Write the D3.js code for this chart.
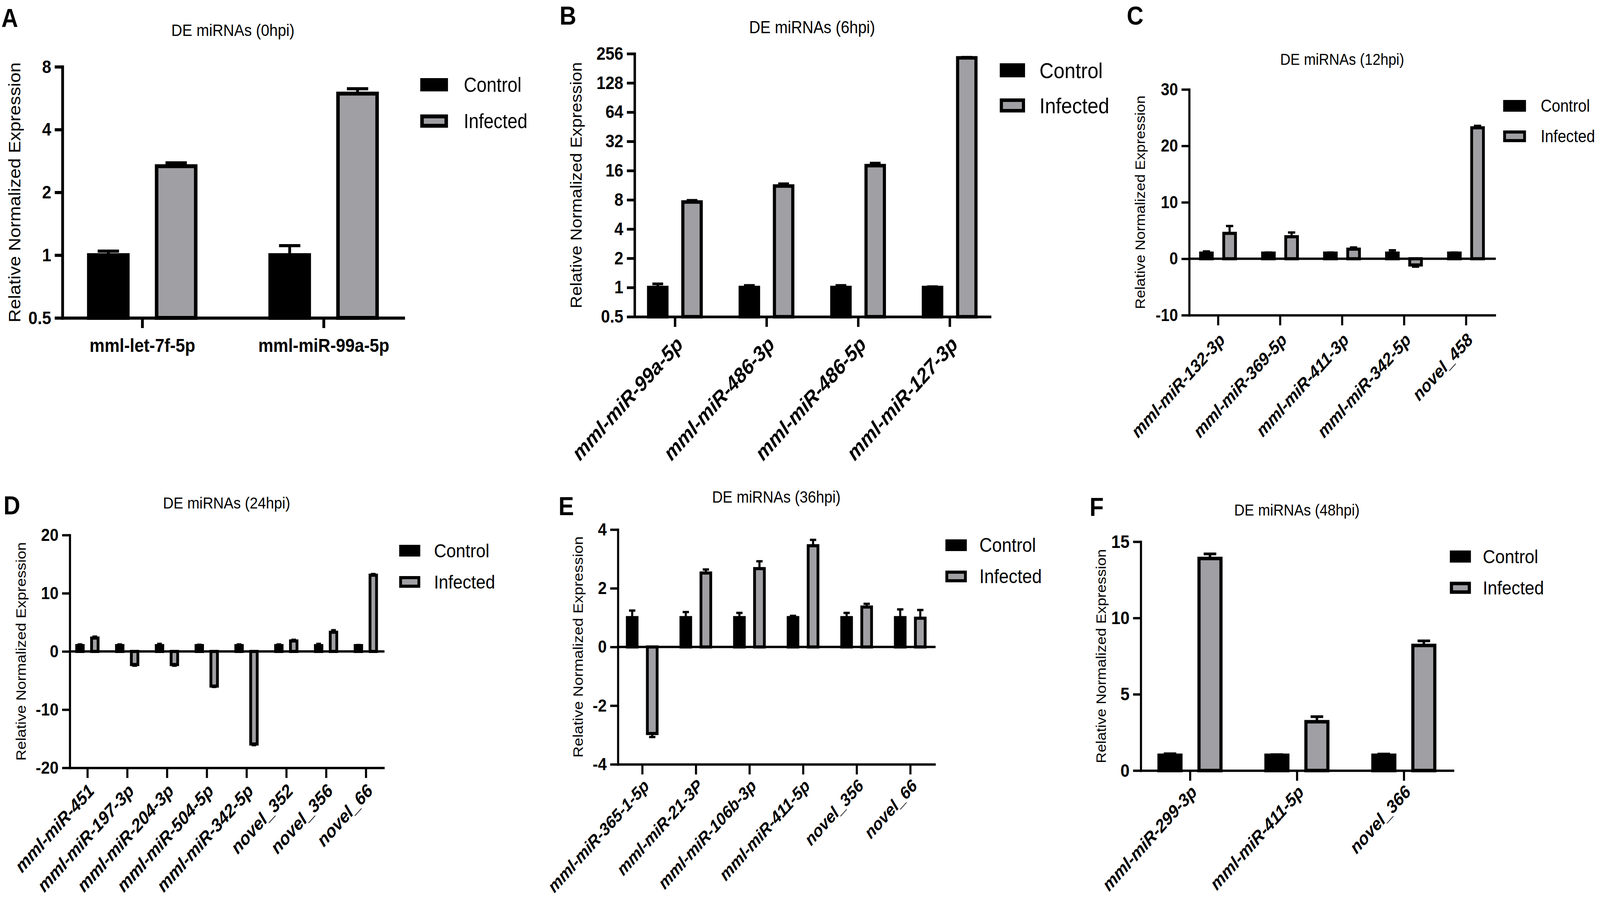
<!DOCTYPE html>
<html>
<head>
<meta charset="utf-8">
<script src="https://cdn.jsdelivr.net/npm/d3@7"></script>
<style>
  html, body { margin: 0; padding: 0; background: #fff; overflow: hidden; width: 100%; height: 100%; }
  svg { display: block; width: 100vw; height: 100vh; }
</style>
</head>
<body>
<svg id="fig" viewBox="0 0 4561 2307" preserveAspectRatio="none"></svg>
<script>
// ---- data ----
var seriesNames = ["Control", "Infected"];

// A: 0hpi (log2 axis)
var catsA = ["mml-let-7f-5p", "mml-miR-99a-5p"];
var controlA = [1.0, 1.0];
var controlErrA = [0.045, 0.11];
var infectedA = [2.67, 5.95];
var infectedErrA = [0.10, 0.33];
var ticksA = [0.5, 1, 2, 4, 8];
var tickLabelsA = ["0.5", "1", "2", "4", "8"];

// B: 6hpi (log2 axis)
var catsB = ["mml-miR-99a-5p", "mml-miR-486-3p", "mml-miR-486-5p", "mml-miR-127-3p"];
var controlB = [1.0, 1.0, 1.0, 1.0];
var controlErrB = [0.09, 0.05, 0.05, 0.02];
var infectedB = [7.6, 11.1, 18.0, 232];
var infectedErrB = [0.3, 0.6, 1.1, 3];
var ticksB = [0.5, 1, 2, 4, 8, 16, 32, 64, 128, 256];
var tickLabelsB = ["0.5", "1", "2", "4", "8", "16", "32", "64", "128", "256"];

// C: 12hpi
var catsC = ["mml-miR-132-3p", "mml-miR-369-5p", "mml-miR-411-3p", "mml-miR-342-5p", "novel_458"];
var controlC = [1.0, 1.0, 1.0, 1.0, 1.0];
var controlErrC = [0.3, 0.1, 0.1, 0.5, 0.1];
var infectedC = [4.5, 3.9, 1.7, -1.1, 23.2];
var infectedErrC = [1.3, 0.75, 0.3, 0.3, 0.35];
var ticksC = [-10, 0, 10, 20, 30];
var tickLabelsC = ["-10", "0", "10", "20", "30"];

// D: 24hpi
var catsD = ["mml-miR-451", "mml-miR-197-3p", "mml-miR-204-3p", "mml-miR-504-5p",
             "mml-miR-342-5p", "novel_352", "novel_356", "novel_66"];
var controlD = [1.0, 1.0, 1.0, 1.0, 1.0, 1.0, 1.0, 1.0];
var controlErrD = [0.2, 0.2, 0.3, 0.15, 0.2, 0.2, 0.3, 0.1];
var infectedD = [2.3, -2.25, -2.25, -5.95, -15.9, 1.8, 3.3, 13.1];
var infectedErrD = [0.25, 0.2, 0.2, 0.15, 0.2, 0.2, 0.35, 0.2];
var ticksD = [-20, -10, 0, 10, 20];
var tickLabelsD = ["-20", "-10", "0", "10", "20"];

// E: 36hpi
var catsE = ["mml-miR-365-1-5p", "mml-miR-21-3P", "mml-miR-106b-3p", "mml-miR-411-5p", "novel_356", "novel_66"];
var controlE = [1.0, 1.0, 1.0, 1.0, 1.0, 1.0];
var controlErrE = [0.24, 0.19, 0.16, 0.06, 0.16, 0.28];
var infectedE = [-2.95, 2.52, 2.67, 3.45, 1.36, 0.98];
var infectedErrE = [0.12, 0.12, 0.25, 0.2, 0.11, 0.28];
var ticksE = [-4, -2, 0, 2, 4];
var tickLabelsE = ["-4", "-2", "0", "2", "4"];

// F: 48hpi
var catsF = ["mml-miR-299-3p", "mml-miR-411-5p", "novel_366"];
var controlF = [1.0, 1.0, 1.0];
var controlErrF = [0.1, 0.04, 0.08];
var infectedF = [13.9, 3.2, 8.2];
var infectedErrF = [0.3, 0.33, 0.3];
var ticksF = [0, 5, 10, 15];
var tickLabelsF = ["0", "5", "10", "15"];

// ---- layout of the six panels ----
var panels = [
  {letter: "A", title: "DE miRNAs (0hpi)", log: true, domain: [0.5, 8],
   cats: catsA, control: controlA, controlErr: controlErrA, infected: infectedA, infectedErr: infectedErrA,
   ticks: ticksA, tickLabels: tickLabelsA,
   left: 178, right: 1150, top: 171, bottom: 814, pad: 0.44,
   sw: 10, aw: 8, ew: 8, tickFont: 47, xFont: 48, rotate: false, lblX: 0, lblY: 0,
   ylabX: 42, ylabFont: 47, titleX: 664, titleY: 77, titleFont: 43, letterX: 4, letterY: 69,
   legX: 1198, legW: 79, legH: 34, legY: [217, 310], legTextX: 1322, legFont: 51},
  {letter: "B", title: "DE miRNAs (6hpi)", log: true, domain: [0.5, 256],
   cats: catsB, control: controlB, controlErr: controlErrB, infected: infectedB, infectedErr: infectedErrB,
   ticks: ticksB, tickLabels: tickLabelsB,
   left: 1809, right: 2822, top: 137.5, bottom: 811, pad: 0.44,
   sw: 9, aw: 7, ew: 7, tickFont: 46, xFont: 54, rotate: true, lblX: 26, lblY: 74,
   ylabX: 1643, ylabFont: 44.5, titleX: 2315, titleY: 70, titleFont: 44, letterX: 1595, letterY: 63,
   legX: 2850, legW: 72, legH: 36, legY: [180, 270], legTextX: 2963, legFont: 56},
  {letter: "C", title: "DE miRNAs (12hpi)", log: false, domain: [-10, 30],
   cats: catsC, control: controlC, controlErr: controlErrC, infected: infectedC, infectedErr: infectedErrC,
   ticks: ticksC, tickLabels: tickLabelsC,
   left: 3390, right: 4261, top: 229, bottom: 807, pad: 0.4646,
   sw: 8, aw: 6, ew: 6, tickFont: 44, xFont: 45.5, rotate: true, lblX: 22, lblY: 66,
   ylabX: 3250, ylabFont: 38.6, titleX: 3826, titleY: 152, titleFont: 40.5, letterX: 3212, letterY: 63,
   legX: 4285, legW: 65, legH: 30, legY: [271, 349], legTextX: 4392, legFont: 43.5},
  {letter: "D", title: "DE miRNAs (24hpi)", log: false, domain: [-20, 20],
   cats: catsD, control: controlD, controlErr: controlErrD, infected: infectedD, infectedErr: infectedErrD,
   ticks: ticksD, tickLabels: tickLabelsD,
   left: 199, right: 1093, top: 1370, bottom: 1966, pad: 0.442,
   sw: 8, aw: 6, ew: 6, tickFont: 45, xFont: 47, rotate: true, lblX: 22, lblY: 62,
   ylabX: 60, ylabFont: 39.5, titleX: 646, titleY: 1287, titleFont: 41.6, letterX: 10, letterY: 1317,
   legX: 1138, legW: 60, legH: 30, legY: [1410, 1490], legTextX: 1237, legFont: 49},
  {letter: "E", title: "DE miRNAs (36hpi)", log: false, domain: [-4, 4],
   cats: catsE, control: controlE, controlErr: controlErrE, infected: infectedE, infectedErr: infectedErrE,
   ticks: ticksE, tickLabels: tickLabelsE,
   left: 1761.5, right: 2664, top: 1356, bottom: 1957, pad: 0.453,
   sw: 8, aw: 6, ew: 6, tickFont: 45, xFont: 44.5, rotate: true, lblX: 22, lblY: 58,
   ylabX: 1647, ylabFont: 40, titleX: 2213, titleY: 1272, titleFont: 42, letterX: 1592, letterY: 1319,
   legX: 2695, legW: 61, legH: 30, legY: [1396, 1476], legTextX: 2792, legFont: 50},
  {letter: "F", title: "DE miRNAs (48hpi)", log: false, domain: [0, 15],
   cats: catsF, control: controlF, controlErr: controlErrF, infected: infectedF, infectedErr: infectedErrF,
   ticks: ticksF, tickLabels: tickLabelsF,
   left: 3252, right: 4142, top: 1387, bottom: 1973, pad: 0.46,
   sw: 9, aw: 6, ew: 7, tickFont: 47, xFont: 46, rotate: true, lblX: 22, lblY: 58,
   ylabX: 3139, ylabFont: 38.7, titleX: 3697, titleY: 1306, titleFont: 41, letterX: 3106, letterY: 1321,
   legX: 4133, legW: 60, legH: 31, legY: [1425, 1505], legTextX: 4227, legFont: 49}
];

var fontFamily = '"Liberation Sans", Arial, Helvetica, sans-serif';
var fills = {Control: "#000000", Infected: "#a0a0a4"};
var svg = d3.select("#fig");

function drawPanel(p) {
  var g = svg.append("g").attr("font-family", fontFamily);
  var series = [p.control, p.infected];
  var errs = [p.controlErr, p.infectedErr];

  var y = (p.log ? d3.scaleLog().base(2) : d3.scaleLinear())
    .domain(p.domain)
    .range([p.bottom, p.top]);
  var x = d3.scalePoint().domain(p.cats).range([p.left, p.right]).padding(p.pad);
  var step = x.step();
  // the two bars of a group
  var sub = d3.scaleBand().domain(seriesNames)
    .range([-0.3045 * step, 0.3045 * step])
    .paddingInner(0.372);
  var bw = sub.bandwidth();
  var base = p.log ? p.domain[0] : 0;

  var rows = [];
  p.cats.forEach(function(c, i) {
    seriesNames.forEach(function(s, j) {
      rows.push({cat: c, s: s, v: series[j][i], e: errs[j][i]});
    });
  });
  function cx(d) { return x(d.cat) + sub(d.s) + bw / 2; }
  function tip(d) { return d.v >= 0 ? d.v + d.e : d.v - d.e; }

  // zero line for axes that go negative
  if (!p.log && p.domain[0] < 0) {
    g.append("line")
      .attr("x1", p.left).attr("x2", p.right)
      .attr("y1", y(0)).attr("y2", y(0))
      .attr("stroke", "#000").attr("stroke-width", p.aw)
      .attr("stroke-linecap", "square");
  }

  // bars
  g.selectAll("rect.bar").data(rows).enter()
    .append("rect")
    .attr("class", "bar")
    .attr("x", function(d) { return cx(d) - (bw - p.sw) / 2; })
    .attr("width", bw - p.sw)
    .attr("y", function(d) { return Math.min(y(d.v), y(base)); })
    .attr("height", function(d) { return Math.abs(y(d.v) - y(base)); })
    .attr("fill", function(d) { return fills[d.s]; })
    .attr("stroke", "#000")
    .attr("stroke-width", p.sw);

  // error bars (one sided, away from the baseline)
  var eb = g.selectAll("g.err").data(rows).enter().append("g").attr("class", "err")
    .attr("stroke", "#000").attr("stroke-width", p.ew);
  eb.append("line")
    .attr("x1", cx).attr("x2", cx)
    .attr("y1", function(d) { return y(d.v); })
    .attr("y2", function(d) { return y(tip(d)); });
  eb.append("line")
    .attr("x1", function(d) { return cx(d) - bw / 4; })
    .attr("x2", function(d) { return cx(d) + bw / 4; })
    .attr("y1", function(d) { return y(tip(d)); })
    .attr("y2", function(d) { return y(tip(d)); });

  // y axis
  var yAxis = d3.axisLeft(y)
    .tickValues(p.ticks)
    .tickFormat(function(d, i) { return p.tickLabels[i]; })
    .tickSize(22).tickSizeOuter(0).tickPadding(10);
  var gy = g.append("g").attr("transform", "translate(" + p.left + ",0)").call(yAxis);
  gy.select(".domain").attr("stroke-width", p.aw).attr("stroke-linecap", "square");
  gy.selectAll(".tick line").attr("stroke-width", p.aw);
  gy.selectAll(".tick text")
    .attr("font-family", fontFamily)
    .attr("font-size", p.tickFont)
    .attr("font-weight", "bold")
    .attr("fill", "#000");

  // x axis
  var xAxis = d3.axisBottom(x).tickSize(26).tickSizeOuter(0);
  var gx = g.append("g").attr("transform", "translate(0," + p.bottom + ")").call(xAxis);
  gx.select(".domain").attr("stroke-width", p.aw).attr("stroke-linecap", "square");
  gx.selectAll(".tick line").attr("stroke-width", p.aw);
  var xt = gx.selectAll(".tick text")
    .attr("font-family", fontFamily)
    .attr("font-size", p.xFont)
    .attr("font-weight", "bold")
    .attr("fill", "#000");
  if (p.rotate) {
    xt.attr("font-style", "italic")
      .attr("text-anchor", "end")
      .attr("x", 0).attr("y", 0).attr("dy", null)
      .attr("transform", "translate(" + p.lblX + "," + p.lblY + ") rotate(-45)");
  } else {
    xt.attr("y", 70).attr("dy", "0.35em");
  }

  // y axis label
  g.append("text")
    .attr("transform", "translate(" + p.ylabX + "," + ((p.top + p.bottom) / 2) + ") rotate(-90)")
    .attr("text-anchor", "middle")
    .attr("dy", "0.35em")
    .attr("font-size", p.ylabFont)
    .text("Relative Normalized Expression");

  // title
  g.append("text")
    .attr("x", p.titleX).attr("y", p.titleY)
    .attr("dy", "0.35em")
    .attr("text-anchor", "middle")
    .attr("font-size", p.titleFont)
    .text(p.title);

  // panel letter
  g.append("text")
    .attr("x", p.letterX).attr("y", p.letterY)
    .attr("font-size", 66)
    .attr("font-weight", "bold")
    .text(p.letter);

  // legend
  var lsw = p.sw;
  var leg = g.selectAll("g.leg").data(seriesNames).enter().append("g").attr("class", "leg");
  leg.append("rect")
    .attr("x", p.legX + lsw / 2)
    .attr("y", function(d, i) { return p.legY[i] - p.legH / 2 + lsw / 2; })
    .attr("width", p.legW - lsw)
    .attr("height", p.legH - lsw)
    .attr("fill", function(d) { return fills[d]; })
    .attr("stroke", "#000")
    .attr("stroke-width", lsw);
  leg.append("text")
    .attr("x", p.legTextX)
    .attr("y", function(d, i) { return p.legY[i]; })
    .attr("dy", "0.35em")
    .attr("font-size", p.legFont)
    .text(function(d) { return d; });
}

panels.forEach(drawPanel);
</script>
</body>
</html>
